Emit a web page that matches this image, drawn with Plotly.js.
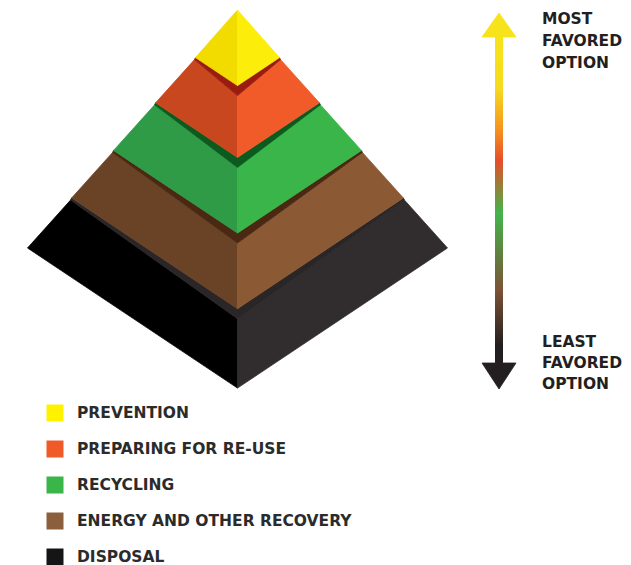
<!DOCTYPE html>
<html><head><meta charset="utf-8">
<script src="https://cdn.plot.ly/plotly-3.0.1.min.js"></script>
<style>html,body{margin:0;padding:0;background:#fff}#chart{width:631px;height:565px}</style>
</head><body><div id="chart"></div>
<script>
// ---- data ----
const categories = ['PREVENTION', 'PREPARING FOR RE-USE', 'RECYCLING', 'ENERGY AND OTHER RECOVERY', 'DISPOSAL'];
const tierBottom = [0.2, 0.39, 0.59, 0.79, 1.0];          // bottom of each tier, fraction of pyramid height
const leftFaceColor  = ['#F2DC00', '#C8471E', '#2F9B47', '#6A4326', '#000000'];
const rightFaceColor = ['#FCEE0A', '#F15A29', '#3AB54A', '#8B5A35', '#312D2F'];
const topBandColor   = ['#F2DC00', '#9A1B10', '#0B5A1E', '#4A2812', '#2A2627'];
const legendColor    = ['#FFF200', '#F05A28', '#39B54A', '#8B5E3C', '#151515'];
const topLabel    = ['MOST', 'FAVORED', 'OPTION'];
const bottomLabel = ['LEAST', 'FAVORED', 'OPTION'];
const gradStop  = [30, 36, 88, 128, 160, 213, 290, 345, 364, 370];
const gradColor = ['#F7E31B', '#F7E31B', '#F6DA1E', '#F6951E', '#E64D2A', '#42B54B', '#7B5236', '#231F20', '#231F20', '#231F20'];

// ---- geometry / style ----
const G = {cx: 237.5, apexY: 10, baseY: 248, baseW: 210, r: 0.667, cornerGap: 2, frontGap: 10};
const A = {x: 499, shaftW: 8, headW: 34, topTip: 13, topBase: 37, botBase: 363, botTip: 389};
const LG = {x: 55, y0: 413, dy: 36, textX: 75};
const FONT = {family: 'DejaVu Sans, Arial, sans-serif', size: 15.5, weight: 700, color: '#231F20'};

function level(f) { return {y: G.apexY + f * (G.baseY - G.apexY), w: f * G.baseW}; }
function poly(pts, color) {
  return {type: 'scatter', mode: 'lines', x: pts.map(p => p[0]).concat([pts[0][0]]),
    y: pts.map(p => p[1]).concat([pts[0][1]]), fill: 'toself', fillcolor: color,
    line: {color: color, width: 0.8}, hoverinfo: 'skip', showlegend: false};
}

const traces = [];
for (let i = categories.length - 1; i >= 0; i--) {
  const b = level(tierBottom[i]);
  const Lb = [G.cx - b.w, b.y], Fb = [G.cx, b.y + b.w * G.r], Rb = [G.cx + b.w, b.y];
  let Lt, Ft, Rt, band = null;
  if (i === 0) {
    Lt = Ft = Rt = [G.cx, G.apexY];
  } else {
    const t = level(tierBottom[i - 1]);
    Lt = [G.cx - t.w - 1, t.y + G.cornerGap];
    Ft = [G.cx, t.y + t.w * G.r + G.frontGap];
    Rt = [G.cx + t.w + 1, t.y + G.cornerGap];
    band = [[G.cx - t.w, t.y], [G.cx, t.y + t.w * G.r], [G.cx + t.w, t.y], Rt, Ft, Lt];
  }
  traces.push(poly([Lt, Ft, Fb, Lb], leftFaceColor[i]));
  traces.push(poly([Ft, Rt, Rb, Fb], rightFaceColor[i]));
  if (band) traces.push(poly(band, topBandColor[i]));
}

// gradient arrow shaft
const gmin = Math.min(...gradStop), gmax = Math.max(...gradStop);
traces.push({type: 'heatmap', x: [A.x - A.shaftW / 4, A.x + A.shaftW / 4], y: gradStop,
  z: gradStop.map(v => [v, v]), zmin: gmin, zmax: gmax, zsmooth: 'best',
  colorscale: gradStop.map((v, k) => [(v - gmin) / (gmax - gmin), gradColor[k]]),
  showscale: false, hoverinfo: 'skip'});
traces.push(poly([[A.x - A.headW / 2, A.topBase], [A.x, A.topTip], [A.x + A.headW / 2, A.topBase]], gradColor[0]));
traces.push(poly([[A.x - A.headW / 2, A.botBase], [A.x, A.botTip], [A.x + A.headW / 2, A.botBase]], gradColor[gradColor.length - 1]));

// legend squares
traces.push({type: 'scatter', mode: 'markers', x: categories.map(() => LG.x),
  y: categories.map((c, i) => LG.y0 + i * LG.dy),
  marker: {symbol: 'square', size: 17, color: legendColor, line: {width: 0}},
  hoverinfo: 'skip', showlegend: false});

const annotations = [];
categories.forEach((c, i) => annotations.push({x: LG.textX, y: LG.y0 + i * LG.dy, text: c,
  xanchor: 'left', yanchor: 'middle', showarrow: false, font: Object.assign({}, FONT, {color: '#2B2B2B'})}));
topLabel.forEach((t, i) => annotations.push({x: 540, y: 19 + i * 22, text: t,
  xanchor: 'left', yanchor: 'middle', showarrow: false, font: FONT}));
bottomLabel.forEach((t, i) => annotations.push({x: 540, y: 342 + i * 21, text: t,
  xanchor: 'left', yanchor: 'middle', showarrow: false, font: FONT}));

Plotly.newPlot('chart', traces, {
  width: 631, height: 565, margin: {l: 0, r: 0, t: 0, b: 0},
  paper_bgcolor: '#fff', plot_bgcolor: '#fff', showlegend: false,
  xaxis: {range: [0, 631], visible: false, fixedrange: true},
  yaxis: {range: [565, 0], visible: false, fixedrange: true},
  annotations: annotations
}, {staticPlot: true});
</script></body></html>
